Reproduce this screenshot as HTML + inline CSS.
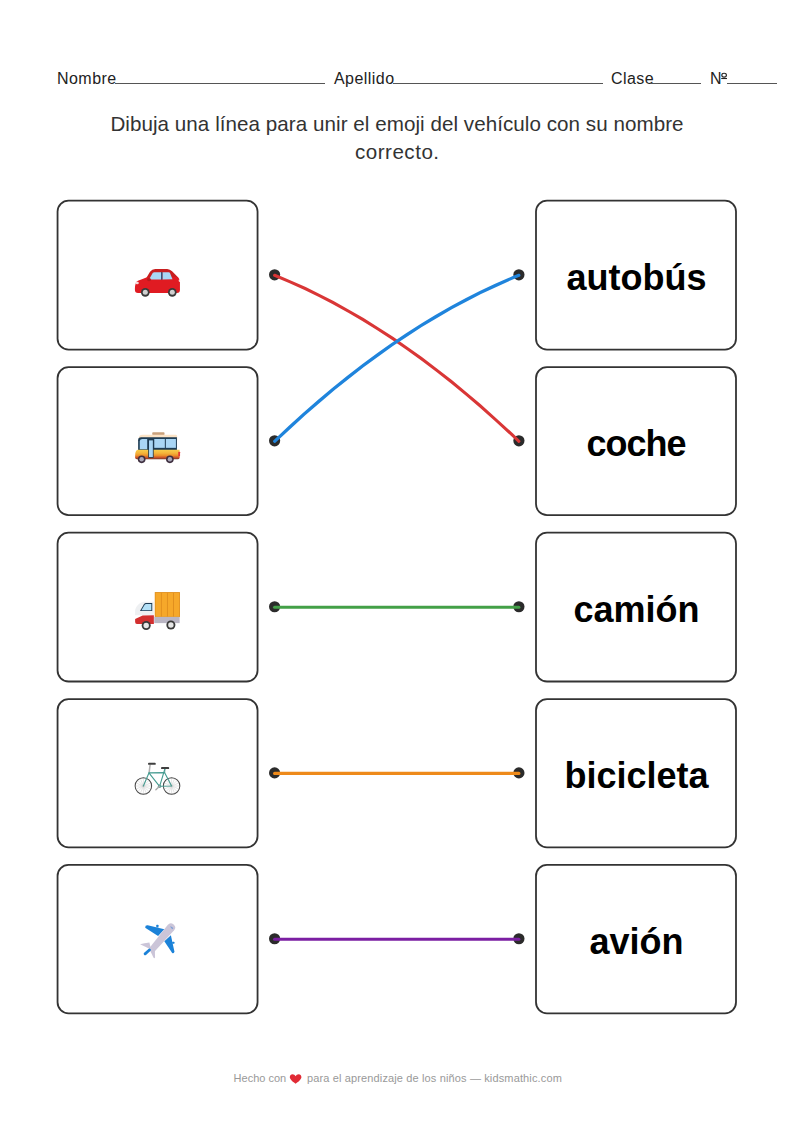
<!DOCTYPE html>
<html><head><meta charset="utf-8">
<style>
html,body{margin:0;padding:0;background:#fff;}
body{width:794px;height:1123px;position:relative;overflow:hidden;font-family:"Liberation Sans",sans-serif;color:#222;}
.hdr{position:absolute;top:0;left:0;width:794px;height:100px;}
.hdr span{position:absolute;font-size:16px;letter-spacing:0.45px;line-height:16px;top:71px;color:#222;white-space:nowrap;}
.hdr i{position:absolute;height:1px;background:#555;top:83px;}
.ins{position:absolute;left:0;width:794px;text-align:center;font-size:20.6px;color:#333;white-space:nowrap;}
.word{position:absolute;left:535.5px;width:202px;text-align:center;font-weight:bold;font-size:36px;color:#000;white-space:nowrap;}
.foot span{position:absolute;top:1071px;font-size:11px;line-height:14px;color:#999;white-space:nowrap;}
svg.ov{position:absolute;left:0;top:0;}
</style></head>
<body>
<div class="hdr">
<span style="left:57px">Nombre</span><i style="left:115px;width:210px"></i>
<span style="left:334px">Apellido</span><i style="left:393px;width:210px"></i>
<span style="left:611px">Clase</span><i style="left:651px;width:50px"></i>
<span style="left:710px">N</span><svg style="position:absolute;left:0;top:0" width="794" height="100"><ellipse cx="724.1" cy="75.2" rx="2.3" ry="1.9" fill="none" stroke="#222" stroke-width="1.15"/><path d="M721.2 78.5 L727 78.5" stroke="#222" stroke-width="1.1"/></svg><i style="left:727px;width:50px"></i>
</div>
<div class="ins" style="top:112px;letter-spacing:0.05px">Dibuja una línea para unir el emoji del vehículo con su nombre</div>
<div class="ins" style="top:140px;letter-spacing:0.5px;text-indent:0.5px">correcto.</div>


<div class="word" style="top:257px">autobús</div>
<div class="word" style="top:423px;letter-spacing:-1px;text-indent:-1px">coche</div>
<div class="word" style="top:589px">camión</div>
<div class="word" style="top:755px">bicicleta</div>
<div class="word" style="top:921px">avión</div>

<svg class="ov" width="794" height="1123" viewBox="0 0 794 1123">
<g fill="none" stroke="#333" stroke-width="1.8">
<rect x="57.56" y="200.60" width="200" height="149.10" rx="11"/>
<rect x="536" y="200.60" width="200" height="149.10" rx="11"/>
<rect x="57.56" y="367.20" width="200" height="147.90" rx="11"/>
<rect x="536" y="367.20" width="200" height="147.90" rx="11"/>
<rect x="57.56" y="532.70" width="200" height="148.80" rx="11"/>
<rect x="536" y="532.70" width="200" height="148.80" rx="11"/>
<rect x="57.56" y="699.20" width="200" height="148.10" rx="11"/>
<rect x="536" y="699.20" width="200" height="148.10" rx="11"/>
<rect x="57.56" y="864.90" width="200" height="148.40" rx="11"/>
<rect x="536" y="864.90" width="200" height="148.40" rx="11"/>
</g>
<g fill="#2b2b2b">
<circle cx="274.6" cy="274.80" r="5.6"/><circle cx="518.9" cy="274.80" r="5.6"/>
<circle cx="274.6" cy="440.80" r="5.6"/><circle cx="518.9" cy="440.80" r="5.6"/>
<circle cx="274.6" cy="606.75" r="5.6"/><circle cx="518.9" cy="606.75" r="5.6"/>
<circle cx="274.6" cy="772.90" r="5.6"/><circle cx="518.9" cy="772.90" r="5.6"/>
<circle cx="274.6" cy="938.75" r="5.6"/><circle cx="518.9" cy="938.75" r="5.6"/>
</g>
<g fill="none" stroke-width="3.1" stroke-linecap="round">
<path d="M274.6 275.30 Q397 324.3 518.9 441.30" stroke="#d93636"/>
<path d="M274.6 441.30 Q397 324.3 518.9 275.30" stroke="#1f84dc"/>
<path d="M274.6 607.25 L518.9 607.25" stroke="#43a047"/>
<path d="M274.6 773.40 L518.9 773.40" stroke="#ee8a1a"/>
<path d="M274.6 939.25 L518.9 939.25" stroke="#7b1fa2"/>
</g>
<!-- car -->
<g transform="translate(120,250) scale(0.100756)">
<path d="M252 292 L298 216 Q318 189 350 189 L468 189 Q497 191 517 212 L588 284 Z" fill="#c81e1f"/>
<path d="M148 385 Q148 318 178 304 L262 274 L562 268 Q592 280 595 302 L595 395 Q595 427 565 427 L178 427 Q148 427 148 395 Z" fill="#e01b22"/>
<path d="M288 294 L326 227 Q331 220 342 220 L407 220 L407 294 Z" fill="#a9d8f5"/>
<path d="M421 220 L484 220 Q492 221 496 229 L521 290 L421 294 Z" fill="#a9d8f5"/>
<rect x="407" y="220" width="14" height="74" fill="#35557a"/>
<ellipse cx="288" cy="293" rx="20" ry="16" fill="#b81c1c"/>
<ellipse cx="170" cy="328" rx="17" ry="13" fill="#f8dcdc"/>
<ellipse cx="590" cy="302" rx="7" ry="15" fill="#f8dcdc"/>
<circle cx="251" cy="420" r="43" fill="#3a3a3a"/>
<circle cx="251" cy="420" r="25" fill="#d0d0d0"/>
<circle cx="519" cy="420" r="43" fill="#3a3a3a"/>
<circle cx="519" cy="420" r="25" fill="#d0d0d0"/>
</g>
<!-- bus -->
<g transform="translate(120,415) scale(0.100756)">
<rect x="320" y="170" width="122" height="30" rx="8" fill="#c8a17c"/>
<path d="M185 240 Q185 196 225 196 L555 196 Q568 196 568 215 L568 250 L185 250 Z" fill="#fbe3c6"/>
<path d="M180 250 Q180 222 210 222 L565 222 L565 348 L180 348 Z" fill="#1d3b53"/>
<path d="M196 340 L196 258 Q198 238 222 238 L270 238 L270 340 Z" fill="#a9d6f5"/>
<rect x="340" y="238" width="105" height="88" fill="#a9d6f5"/>
<rect x="455" y="238" width="100" height="88" fill="#a9d6f5"/>
<defs><linearGradient id="bg1" x1="0" y1="0" x2="0" y2="1"><stop offset="0" stop-color="#f8cc4a"/><stop offset="0.35" stop-color="#f4b43a"/><stop offset="0.6" stop-color="#ec902a"/><stop offset="0.82" stop-color="#c9502a"/><stop offset="1" stop-color="#6e3526"/></linearGradient></defs>
<path d="M150 405 Q150 346 182 346 L592 346 L592 425 Q590 440 572 440 L168 440 Q150 438 150 425 Z" fill="url(#bg1)"/>
<rect x="280" y="245" width="54" height="180" fill="#1d3b53"/>
<rect x="288" y="252" width="38" height="165" fill="#a9d6f5"/>
<rect x="578" y="365" width="18" height="45" rx="4" fill="#e53935"/>
<circle cx="215" cy="440" r="38" fill="#3e2f3f"/>
<circle cx="215" cy="440" r="22" fill="#aaa7b8"/>
<circle cx="495" cy="440" r="38" fill="#3e2f3f"/>
<circle cx="495" cy="440" r="22" fill="#aaa7b8"/>
</g>
<!-- truck -->
<g transform="translate(120,580) scale(0.100756)">
<rect x="345" y="120" width="250" height="248" fill="#e08e1b"/>
<rect x="353" y="128" width="234" height="236" fill="#f6a82a"/>
<rect x="406" y="128" width="8" height="236" fill="#dc8a1c"/>
<rect x="466" y="128" width="8" height="236" fill="#dc8a1c"/>
<rect x="526" y="128" width="8" height="236" fill="#dc8a1c"/>
<rect x="340" y="366" width="252" height="62" fill="#bab6c4"/>
<path d="M150 350 L150 305 Q155 260 200 228 Q215 216 240 215 L336 215 L336 350 Z" fill="#eef0f2"/>
<path d="M198 308 L238 240 Q245 229 258 229 L320 229 L320 308 Z" fill="#1d3b53"/>
<path d="M213 299 L245 245 Q249 238 260 238 L311 238 L311 299 Z" fill="#b3e0f7"/>
<path d="M150 387 L225 352 L336 349 L336 436 L168 436 Q150 434 150 416 Z" fill="#d32f2f"/>
<circle cx="260" cy="452" r="45" fill="#3a3a3a"/>
<circle cx="260" cy="452" r="27" fill="#e6e6e6"/>
<circle cx="505" cy="447" r="45" fill="#3a3a3a"/>
<circle cx="505" cy="447" r="27" fill="#e6e6e6"/>
</g>
<!-- bike -->
<g transform="translate(120,745) scale(0.100756)">
<path d="M312.0 407.0 L152.0 407.0 M305.9 437.6 L158.1 376.4 M288.6 463.6 L175.4 350.4 M262.6 480.9 L201.4 333.1 M232.0 487.0 L232.0 327.0 M201.4 480.9 L262.6 333.1 M175.4 463.6 L288.6 350.4 M158.1 437.6 L305.9 376.4 M592.0 407.0 L432.0 407.0 M585.9 437.6 L438.1 376.4 M568.6 463.6 L455.4 350.4 M542.6 480.9 L481.4 333.1 M512.0 487.0 L512.0 327.0 M481.4 480.9 L542.6 333.1 M455.4 463.6 L568.6 350.4 M438.1 437.6 L585.9 376.4 " stroke="#bdbdbd" stroke-width="4" fill="none"/>
<circle cx="232" cy="407" r="82" fill="none" stroke="#474747" stroke-width="10"/>
<circle cx="512" cy="407" r="82" fill="none" stroke="#474747" stroke-width="10"/>
<path d="M289 277 L299 192" stroke="#b0b0b0" stroke-width="15" fill="none"/>
<path d="M444 274 L447 232" stroke="#8fb9b3" stroke-width="11" fill="none"/>
<g stroke="#469c91" stroke-width="11" fill="none" stroke-linecap="round" stroke-linejoin="round">
<path d="M287 277 L232 407"/>
<path d="M287 277 L442 274 L512 407 L393 410 Z"/>
<path d="M446 236 L393 410"/>
</g>
<circle cx="393" cy="410" r="17" fill="#5d9e96"/>
<path d="M393 410 L356 444" stroke="#a8a8a8" stroke-width="13" stroke-linecap="round"/>
<rect x="278" y="176" width="77" height="21" rx="9" fill="#3f3f3f"/>
<rect x="407" y="219" width="81" height="20" rx="9" fill="#3f3f3f"/>
</g>
<!-- plane -->
<g transform="translate(120,910) scale(0.100756)">
<path d="M250 175 Q248 150 275 152 L440 190 L378 258 Z" fill="#1b82d8"/>
<rect x="360" y="146" width="22" height="28" rx="6" fill="#1b82d8"/>
<path d="M440 310 L505 250 L540 412 Q538 434 518 426 Z" fill="#1b82d8"/>
<rect x="518" y="314" width="22" height="22" rx="6" fill="#1b82d8"/>
<path d="M199 341 Q240 328 292 322 L308 392 Z" fill="#cbc5d8"/>
<path d="M296 396 L346 408 L348 470 Q345 485 333 474 Z" fill="#cbc5d8"/>
<path d="M473 147.8 A42 42 0 0 1 537 202.2 L327.8 429.4 L282.2 390.6 Z" fill="#cbc5d8"/>
<path d="M249 435 L292 397" stroke="#1b82d8" stroke-width="28" stroke-linecap="round"/>
<path d="M497 165 Q515 160 530 180 L518 192 Z" fill="#7d9fd6"/>
</g>
<!-- heart -->
<path transform="translate(0,0.8)" d="M295.6 1083 C291.2 1080 289.8 1078 289.8 1076.3 C289.8 1074.6 291 1073.5 292.5 1073.5 C293.8 1073.5 295 1074.3 295.6 1075.5 C296.2 1074.3 297.4 1073.5 298.7 1073.5 C300.2 1073.5 301.4 1074.6 301.4 1076.3 C301.4 1078 300 1080 295.6 1083 Z" fill="#e12b35"/>

</svg>

<div class="foot"><span id="f1" style="left:233.6px">Hecho con</span><span id="f2" style="left:306.9px;letter-spacing:0.14px">para el aprendizaje de los niños — kidsmathic.com</span></div>
</body></html>
